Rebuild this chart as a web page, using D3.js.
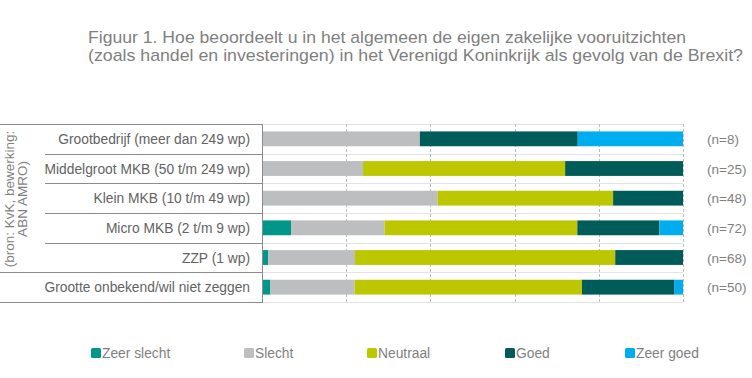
<!DOCTYPE html>
<html><head><meta charset="utf-8">
<script src="https://cdn.jsdelivr.net/npm/d3@7"></script>
<style>body{margin:0;background:#fff}svg{display:block;font-family:"Liberation Sans",Arial,sans-serif}</style>
</head><body><svg id="c" width="752" height="378"></svg>
<script>
const categories = ["Grootbedrijf (meer dan 249 wp)","Middelgroot MKB (50 t/m 249 wp)","Klein MKB (10 t/m 49 wp)","Micro MKB (2 t/m 9 wp)","ZZP (1 wp)","Grootte onbekend/wil niet zeggen"];
const nLabels = ["(n=8)","(n=25)","(n=48)","(n=72)","(n=68)","(n=50)"];
const seriesNames = ["Zeer slecht","Slecht","Neutraal","Goed","Zeer goed"];
const zeerSlecht = [0, 0, 0, 6.9, 1.5, 2];
const slecht     = [37.5, 24, 41.7, 22.2, 20.6, 20];
const neutraal   = [0, 48, 41.7, 45.8, 61.8, 54];
const goed       = [37.5, 28, 16.6, 19.5, 16.1, 22];
const zeerGoed   = [25, 0, 0, 5.6, 0, 2];
const xTicks = [0, 20, 40, 60, 80, 100];
const titleLines = ["Figuur 1. Hoe beoordeelt u in het algemeen de eigen zakelijke vooruitzichten","(zoals handel en investeringen) in het Verenigd Koninkrijk als gevolg van de Brexit?"];
const sourceLines = ["(bron: KvK, bewerking:","ABN AMRO)"];

const colors = ["#00968a","#bcbec0","#bdc700","#005c58","#00aeef"];
const legendX = [91, 244, 367, 505, 625];

const svg = d3.select("#c");
const rows = categories.map((c,i)=>({cat:c, "Zeer slecht":zeerSlecht[i], "Slecht":slecht[i], "Neutraal":neutraal[i], "Goed":goed[i], "Zeer goed":zeerGoed[i]}));
const x = d3.scaleLinear().domain([0,100]).range([262,683]);
const y = d3.scaleBand().domain(categories).range([124,302]).padding(0);
const bh = y.bandwidth()*0.5;

// title
svg.append("g").selectAll("text").data(titleLines).join("text")
  .attr("x",88).attr("y",(d,i)=>43+i*18).attr("fill","#7f7f7f").attr("font-size",17)
  .attr("textLength",(d,i)=>i===0?598:655).attr("lengthAdjust","spacingAndGlyphs").text(d=>d);

// horizontal light grid lines in plot
svg.append("g").selectAll("line").data(categories.map(c=>y(c)).concat([y.range()[1]])).join("line")
  .attr("x1",x(0)).attr("x2",x(100)).attr("y1",d=>Math.round(d)+0.5).attr("y2",d=>Math.round(d)+0.5)
  .attr("stroke","#e3e3e3").attr("stroke-width",1);
// vertical dashed grid lines
svg.append("g").selectAll("line").data(xTicks.slice(1)).join("line")
  .attr("x1",d=>Math.round(x(d))+0.5).attr("x2",d=>Math.round(x(d))+0.5).attr("y1",124).attr("y2",302)
  .attr("stroke","#bdbdbd").attr("stroke-width",1).attr("stroke-dasharray","3,2");

// bars
const stack = d3.stack().keys(seriesNames)(rows);
svg.append("g").selectAll("g").data(stack).join("g").attr("fill",(d,i)=>colors[i])
  .selectAll("rect").data(d=>d).join("rect")
  .attr("x",d=>x(d[0])).attr("width",d=>x(d[1])-x(d[0]))
  .attr("y",d=>y(d.data.cat)+(y.bandwidth()-bh)/2).attr("height",bh);

// table lines
const tbl = svg.append("g").attr("stroke","#8c8c8c").attr("stroke-width",1);
categories.forEach((c,i)=>{
  const yy = Math.round(y(c))+0.5;
  tbl.append("line").attr("x1",(i===0||i===5)?0:45).attr("x2",262).attr("y1",yy).attr("y2",yy);
});
tbl.append("line").attr("x1",0).attr("x2",262).attr("y1",302.5).attr("y2",302.5);
tbl.append("line").attr("x1",262.5).attr("x2",262.5).attr("y1",124).attr("y2",303);

// row labels
svg.append("g").selectAll("text").data(categories).join("text")
  .attr("x",250).attr("y",d=>y(d)+y.bandwidth()/2+5).attr("text-anchor","end")
  .attr("fill","#636363").attr("font-size",13.8).text(d=>d);
// n labels
svg.append("g").selectAll("text").data(nLabels).join("text")
  .attr("x",707).attr("y",(d,i)=>y(categories[i])+y.bandwidth()/2+5)
  .attr("fill","#7f7f7f").attr("font-size",13.5).text(d=>d);

// source rotated
svg.append("g").attr("transform","translate(0,199)").selectAll("text").data(sourceLines).join("text")
  .attr("transform",(d,i)=>`translate(${14+i*13},0) rotate(-90)`).attr("text-anchor","middle")
  .attr("fill","#7f7f7f").attr("font-size",13.5).text(d=>d);

// legend
const lg = svg.append("g").selectAll("g").data(seriesNames).join("g")
  .attr("transform",(d,i)=>`translate(${legendX[i]},348)`);
lg.append("rect").attr("width",10).attr("height",10).attr("rx",1.5).attr("fill",(d,i)=>colors[i]);
lg.append("text").attr("x",11).attr("y",10).attr("fill","#7f7f7f").attr("font-size",13.8).text(d=>d);
</script></body></html>
